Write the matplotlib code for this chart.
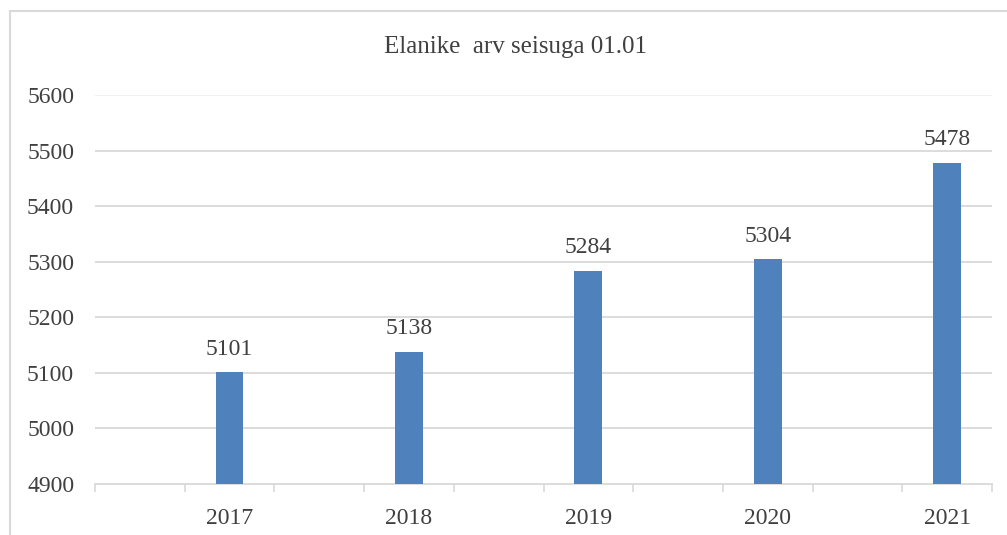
import numpy as np
import matplotlib.pyplot as plt
from matplotlib.patches import Rectangle

# ---- data
years = ["2017", "2018", "2019", "2020", "2021"]
population = [5101, 5138, 5284, 5304, 5478]
title = "Elanike  arv seisuga 01.01"

y_ticks = [4900, 5000, 5100, 5200, 5300, 5400, 5500, 5600]

# ---- style
BAR = "#4F81BD"
TXT = "#404040"
GRID = "#D9D9D9"
plt.rcParams["font.family"] = ["Liberation Serif", "DejaVu Serif"]

fig = plt.figure(figsize=(10.07, 5.35), dpi=100)
ax = fig.add_axes([95 / 1007, 1 - 484 / 535, 897 / 1007, 389 / 535])

# every year sits in the second half of a pair of slots
n_slots = 2 * len(years)
x = np.arange(len(years)) * 2 + 1.5
ax.bar(x, population, width=0.31, color=BAR, zorder=3)

for xi, v in zip(x, population):
    ax.annotate(str(v), (xi, v), xytext=(0, 9), textcoords="offset points",
                ha="center", va="bottom", fontsize=17, color=TXT)

ax.set_xlim(0, n_slots)
ax.set_ylim(y_ticks[0], y_ticks[-1])
ax.set_yticks(y_ticks)
ax.set_yticklabels([str(t) for t in y_ticks])
ax.set_xticks(np.arange(n_slots + 1))
ax.set_xticklabels([])
ax.set_xticks(x, minor=True)
ax.set_xticklabels(years, minor=True)

ax.tick_params(axis="y", length=0, pad=15, labelsize=17, labelcolor=TXT)
ax.tick_params(axis="x", which="major", length=6, width=1.2, color=GRID)
ax.tick_params(axis="x", which="minor", length=0, pad=17, labelsize=17, labelcolor=TXT)

for t in y_ticks[1:-1]:
    ax.axhline(t, color=GRID, lw=1.3, zorder=1)
ax.axhline(y_ticks[-1], color="#F0F0F0", lw=1.3, zorder=1)

for s in ["top", "right", "left"]:
    ax.spines[s].set_visible(False)
ax.spines["bottom"].set_color(GRID)
ax.spines["bottom"].set_linewidth(1.3)

fig.text(516 / 1007, 1 - 47 / 535, title, ha="center", va="center",
         fontsize=18, color=TXT)

# chart frame, cut off on the right and bottom
fig.patches.append(Rectangle((10 / 1007, -0.1), 1.1, 1 - 11 / 535 + 0.1,
                             transform=fig.transFigure, fill=False,
                             edgecolor=GRID, lw=1.5))

fig.savefig("out.png", dpi=100)
